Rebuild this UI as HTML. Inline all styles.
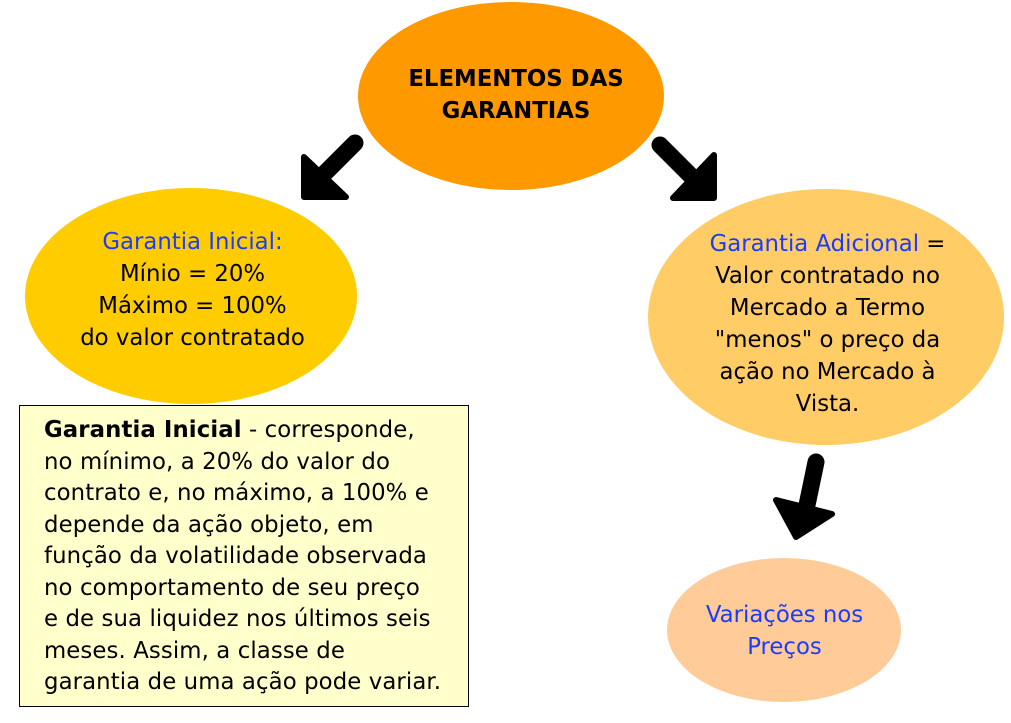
<!DOCTYPE html>
<html><head><meta charset="utf-8"><style>
body{margin:0;width:1011px;height:723px;background:#fff;position:relative;overflow:hidden;font-family:"DejaVu Sans","Liberation Sans",sans-serif;}
.t{position:absolute;text-align:center;font-size:22.8px;line-height:32px;color:#000;white-space:nowrap}
.b{color:#1a3cff}
#box{position:absolute;left:19px;top:405px;width:450px;height:302px;border:1.5px solid #000;background:#ffffcc;box-sizing:border-box;padding:9px 0 0 24px;font-size:22.8px;letter-spacing:0.1px;line-height:31.5px;white-space:nowrap}
</style></head><body>
<svg width="1011" height="723" style="position:absolute;left:0;top:0">
<ellipse cx="511" cy="96" rx="153" ry="94" fill="#ff9900"/>
<ellipse cx="191" cy="296" rx="166" ry="108" fill="#ffcc00"/>
<ellipse cx="826" cy="317" rx="178" ry="128" fill="#ffcc66"/>
<ellipse cx="784" cy="630" rx="117" ry="72" fill="#ffcc99"/>
<g stroke="#000" stroke-width="17" stroke-linecap="round" fill="#000" stroke-linejoin="round">
<line x1="355" y1="143" x2="318" y2="180"/>
<polygon points="304,157 304,197 346,197" stroke-width="6"/>
<line x1="660" y1="145" x2="698" y2="183"/>
<polygon points="714,155 714,198 673,198" stroke-width="6"/>
<line x1="816" y1="462" x2="806" y2="510"/>
<polygon points="776,500 832,514 796,537" stroke-width="6"/>
</g>
</svg>
<div class="t" style="left:361px;top:63px;width:310px;font-weight:bold">ELEMENTOS DAS<br>GARANTIAS</div>
<div class="t" style="left:20px;top:226px;width:345px"><span class="b">Garantia Inicial:</span><br>Mínio = 20%<br>Máximo = 100%<br>do valor contratado</div>
<div class="t" style="left:650px;top:228px;width:355px"><span class="b">Garantia Adicional</span> =<br>Valor contratado no<br>Mercado a Termo<br>"menos" o preço da<br>ação no Mercado à<br>Vista.</div>
<div class="t" style="left:667px;top:599px;width:235px"><span class="b">Variações nos<br>Preços</span></div>
<div id="box"><b>Garantia Inicial</b> - corresponde,<br>no mínimo, a 20% do valor do<br>contrato e, no máximo, a 100% e<br>depende da ação objeto, em<br>função da volatilidade observada<br>no comportamento de seu preço<br>e de sua liquidez nos últimos seis<br>meses. Assim, a classe de<br>garantia de uma ação pode variar.</div>
</body></html>
